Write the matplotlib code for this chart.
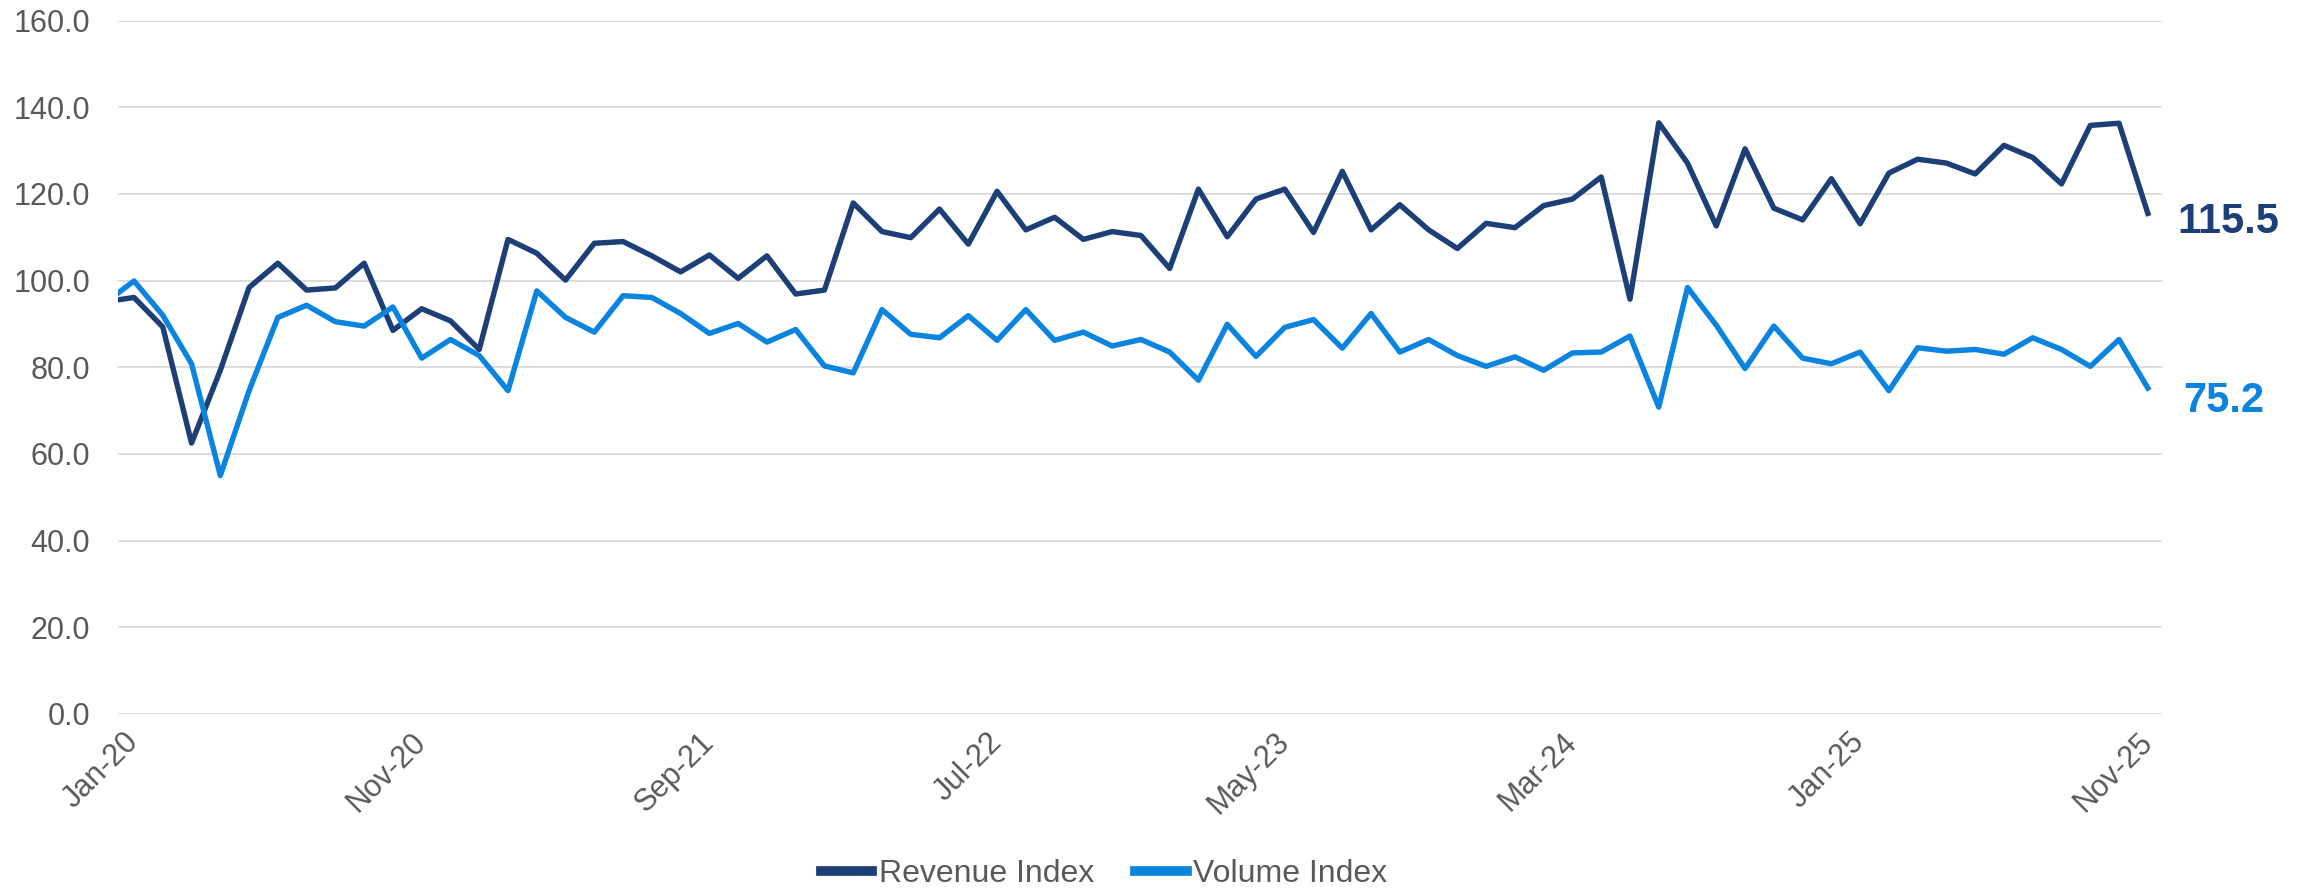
import pandas as pd
import matplotlib
matplotlib.use("Agg")
import matplotlib.pyplot as plt

plt.rcParams['font.family'] = ['Liberation Sans', 'DejaVu Sans']

# monthly values, Dec-19 (only a clipped stub is visible) then Jan-20 .. Nov-25
months = pd.date_range('2019-12-01', periods=72, freq='MS').strftime('%b-%y').tolist()

revenue = [95.1,
           96.1, 89.3, 62.5, 79.3, 98.4, 104.0, 97.8, 98.3, 104.0, 88.5,
           93.5, 90.7, 84.1, 109.5, 106.3, 100.1, 108.6, 109.0, 105.7, 102.0,
           105.9, 100.5, 105.7, 96.9, 97.8, 117.9, 111.3, 109.9, 116.5, 108.4,
           120.6, 111.7, 114.6, 109.5, 111.3, 110.4, 102.8, 121.1, 110.1, 118.8,
           121.1, 111.1, 125.2, 111.7, 117.5, 111.7, 107.4, 113.2, 112.2, 117.3,
           118.8, 123.9, 95.7, 136.4, 127.1, 112.6, 130.4, 116.7, 114.0, 123.5,
           113.1, 124.8, 128.0, 127.1, 124.6, 131.2, 128.4, 122.3, 135.8, 136.3,
           115.5]

volume = [94.9,
          99.9, 92.0, 80.8, 55.0, 74.6, 91.5, 94.3, 90.5, 89.5, 93.9,
          82.1, 86.4, 82.7, 74.6, 97.6, 91.5, 88.1, 96.5, 96.1, 92.4,
          87.8, 90.1, 85.8, 88.7, 80.3, 78.7, 93.3, 87.6, 86.8, 91.9,
          86.2, 93.3, 86.2, 88.1, 84.9, 86.4, 83.5, 77.0, 89.9, 82.5,
          89.2, 91.0, 84.4, 92.4, 83.5, 86.4, 82.7, 80.2, 82.4, 79.3,
          83.3, 83.5, 87.2, 70.8, 98.4, 89.7, 79.7, 89.5, 82.1, 80.8,
          83.5, 74.6, 84.5, 83.7, 84.1, 83.0, 86.8, 84.1, 80.2, 86.4,
          75.2]

navy = '#1D3F78'
blue = '#0B84E0'
grey = '#595959'

x = list(range(-1, len(months) - 1))

fig = plt.figure(figsize=(23.05, 8.92), dpi=100)
ax = fig.add_axes([0.0512, 0.1996, 0.8866, 0.7774])

ax.plot(x, revenue, color=navy, lw=3.9, label='Revenue Index', solid_joinstyle='round')
ax.plot(x, volume, color=blue, lw=3.9, label='Volume Index', solid_joinstyle='round')

ax.tick_params(axis='both', length=0, labelsize=22, labelcolor=grey)
ax.tick_params(axis='y', pad=20)
ax.tick_params(axis='x', pad=17)

ax.set_xlim(-0.556, 70.48)
ax.set_ylim(0, 160)
ax.set_yticks(range(0, 161, 20))
ax.set_yticklabels([f'{v:.1f}' for v in range(0, 161, 20)])

ticks = list(range(0, 71, 10))
ax.set_xticks(ticks)
ax.set_xticklabels([months[t + 1] for t in ticks], rotation=45, ha='right',
                   va='center', rotation_mode='anchor')

ax.grid(axis='y', color='#D9D9D9', lw=1.3)
ax.set_axisbelow(True)
for s in ax.spines.values():
    s.set_visible(False)

# end labels
ax.annotate(f'{revenue[-1]:.1f}', xy=(x[-1], revenue[-1]), xytext=(30, -9),
            textcoords='offset pixels', ha='left', va='center',
            fontsize=30, fontweight='bold', color=navy, annotation_clip=False)
ax.annotate(f'{volume[-1]:.1f}', xy=(x[-1], volume[-1]), xytext=(35, -13),
            textcoords='offset pixels', ha='left', va='center',
            fontsize=30, fontweight='bold', color=blue, annotation_clip=False)

leg = fig.legend(loc='center', bbox_to_anchor=(0.479, 0.02), ncol=2, frameon=False,
                 fontsize=23, handlelength=1.6, handletextpad=0.2, columnspacing=1.3)
for t in leg.get_texts():
    t.set_color(grey)
for h in leg.get_lines():
    h.set_linewidth(7)

fig.savefig('out.png', dpi=100)
